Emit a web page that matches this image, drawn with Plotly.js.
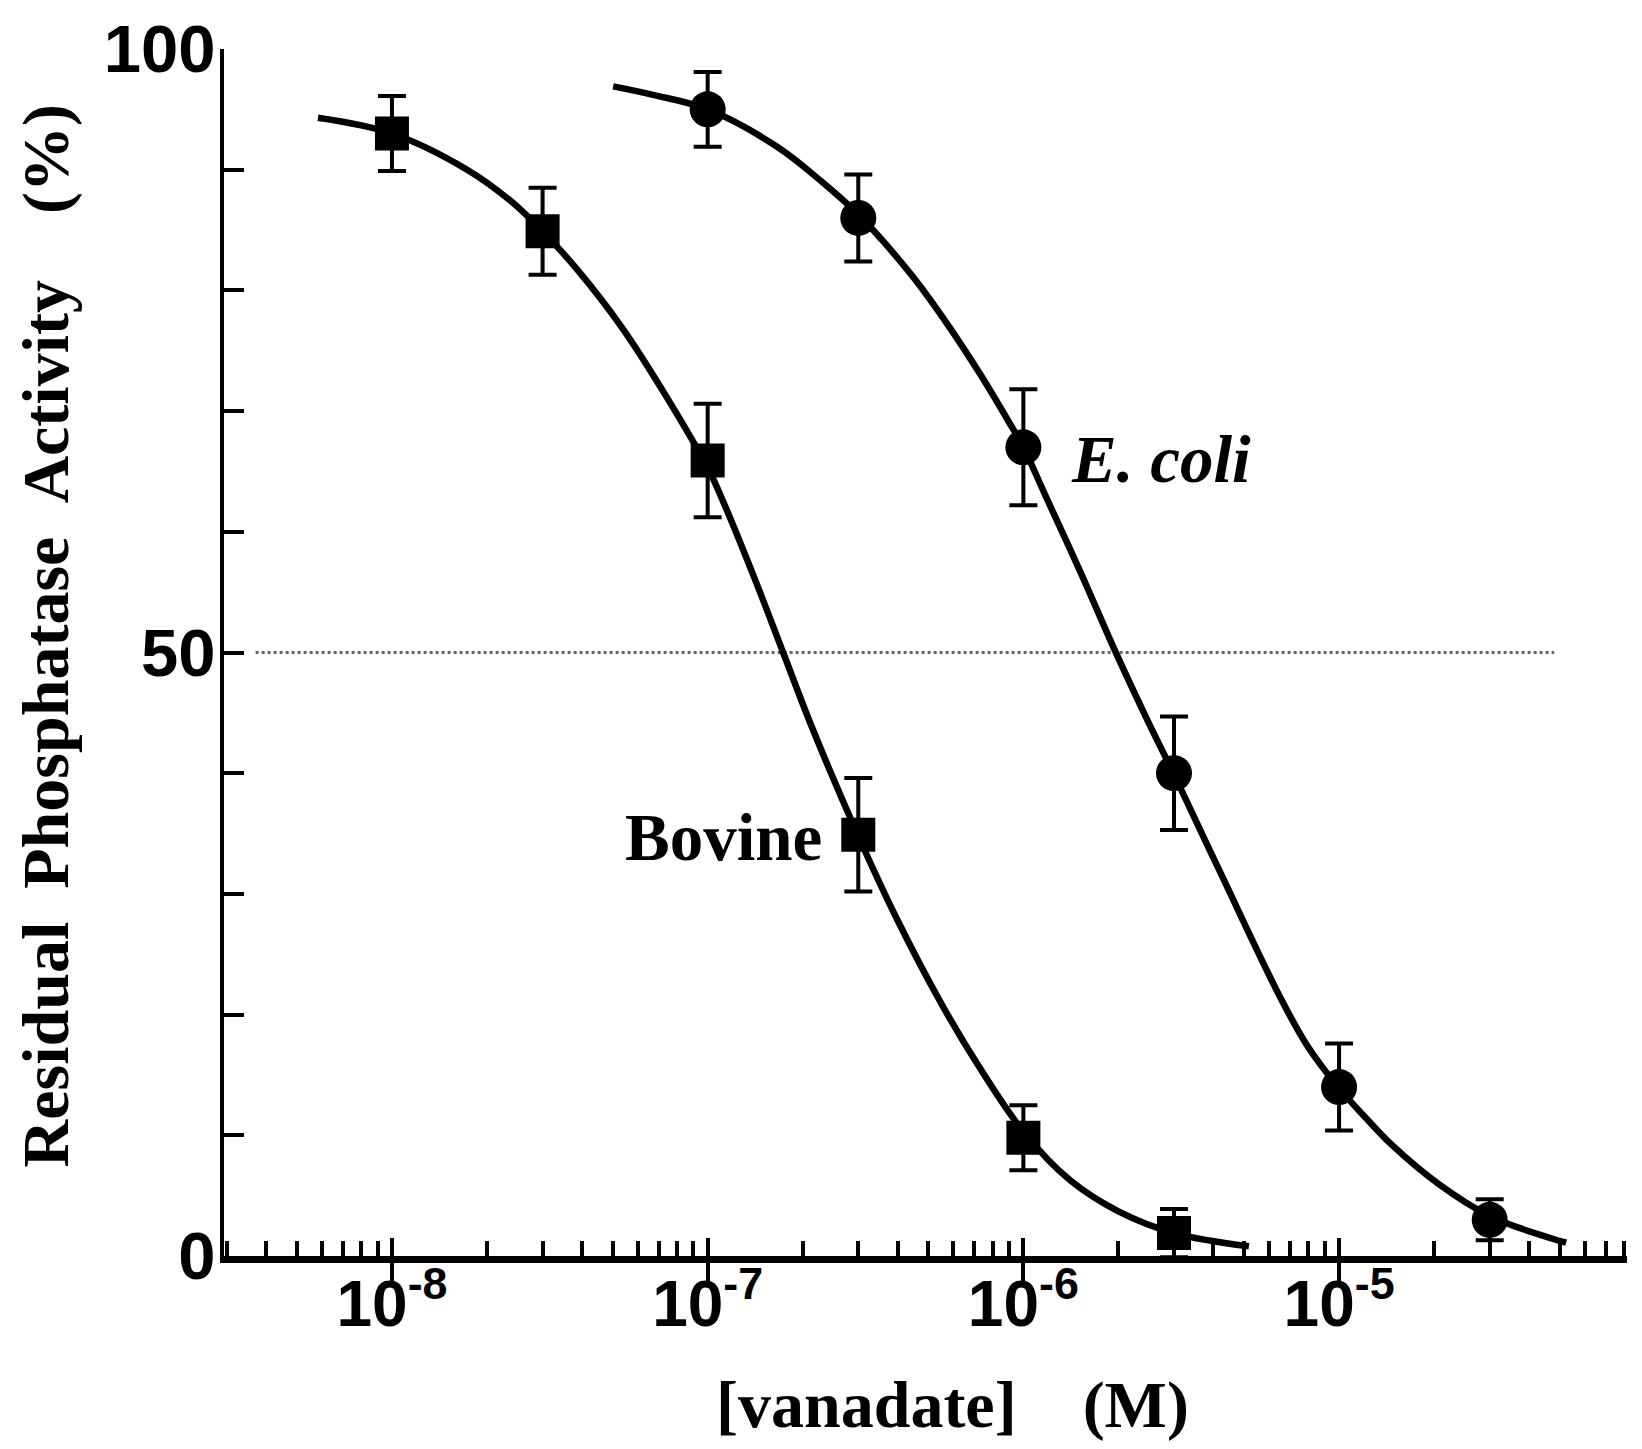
<!DOCTYPE html>
<html>
<head>
<meta charset="utf-8">
<script src="https://cdn.plot.ly/plotly-3.0.1.min.js"></script>
<style>
  html, body { margin: 0; padding: 0; background: #fff; }
  #chart { width: 1642px; height: 1449px; }
</style>
</head>
<body>
<div id="chart"></div>
<script>
// measured points (mean +/- error), vanadate in M
const bovineX = [1e-8, 3e-8, 1e-7, 3e-7, 1e-6, 3e-6];
const bovineY = [93.0, 84.9, 65.9, 34.9, 9.8, 1.9];
const bovineErr = [3.1, 3.6, 4.7, 4.7, 2.7, 2.0];

const ecoliX = [1e-7, 3e-7, 1e-6, 3e-6, 1e-5, 3e-5];
const ecoliY = [95.0, 86.0, 67.0, 40.0, 14.0, 3.0];
const ecoliErr = [3.1, 3.6, 4.8, 4.7, 3.6, 1.7];

// fitted curves
const bovineFitX = [5.83e-9, 1.0e-8, 1.73e-8, 2.38e-8, 3.0e-8, 3.87e-8, 5.36e-8, 7.40e-8,
  1.0e-7, 1.12e-7, 1.41e-7, 1.74e-7, 2.14e-7, 3.0e-7, 3.98e-7, 5.50e-7, 7.19e-7,
  1.0e-6, 1.41e-6, 2.0e-6, 3.0e-6, 5.18e-6];
const bovineFitY = [94.3, 93.0, 90.0, 87.4, 84.9, 81.7, 76.9, 71.2,
  65.3, 62.5, 56.1, 49.9, 43.8, 34.8, 27.9, 20.9, 15.8,
  10.3, 6.25, 3.7, 1.9, 0.8];

const ecoliFitX = [5.02e-8, 6.71e-8, 1.0e-7, 1.66e-7, 2.30e-7, 3.0e-7, 3.56e-7, 4.54e-7,
  5.78e-7, 7.36e-7, 8.95e-7, 1.0e-6, 1.17e-6, 1.52e-6, 1.97e-6, 2.47e-6, 3.0e-6,
  4.29e-6, 6.52e-6, 7.94e-6, 1.0e-5, 1.21e-5, 1.47e-5, 2.07e-5, 3.0e-5, 3.85e-5, 5.24e-5];
const ecoliFitY = [96.9, 96.2, 95.0, 91.9, 89.0, 86.3, 84.2, 80.9,
  77.1, 72.9, 69.2, 67.0, 63.1, 56.6, 49.9, 44.4, 39.9,
  31.3, 21.4, 17.4, 13.9, 11.5, 9.2, 5.95, 3.3, 2.2, 1.1];

// 50 % reference line
const halfX = [3.7e-9, 4.8e-5];
const halfY = [50, 50];

const xTickVals = [1e-8, 1e-7, 1e-6, 1e-5];
const xTickText = ['10<sup>-8</sup>', '10<sup>-7</sup>', '10<sup>-6</sup>', '10<sup>-5</sup>'];
const yTickVals = [0, 50, 100];
const yTickText = ['0', '50', '100'];

const xTitle = '[vanadate]\u00a0\u00a0\u00a0\u00a0(M)';
const yTitle = 'Residual\u00a0\u00a0Phosphatase\u00a0\u00a0Activity\u00a0\u00a0\u00a0\u00a0(%)';

const serif = 'Liberation Serif, Times New Roman, serif';
const sans = 'Liberation Sans, Arial, sans-serif';

function fitTrace(x, y) {
  return {
    x: x, y: y, type: 'scatter', mode: 'lines',
    line: { color: '#000', width: 6.5, shape: 'spline', smoothing: 1 },
    hoverinfo: 'skip', showlegend: false
  };
}

function pointTrace(x, y, err, symbol, size) {
  return {
    x: x, y: y, type: 'scatter', mode: 'markers',
    marker: { symbol: symbol, size: size, color: '#000' },
    error_y: { type: 'data', array: err, visible: true, color: '#000', thickness: 4, width: 14 },
    showlegend: false
  };
}

const traces = [
  {
    x: halfX, y: halfY, type: 'scatter', mode: 'lines',
    line: { color: '#666', width: 3, dash: '3px,3px' },
    hoverinfo: 'skip', showlegend: false
  },
  fitTrace(bovineFitX, bovineFitY),
  fitTrace(ecoliFitX, ecoliFitY),
  pointTrace(bovineX, bovineY, bovineErr, 'square', 34),
  pointTrace(ecoliX, ecoliY, ecoliErr, 'circle', 36),
  // empty trace so the overlay axis (inner half of the major ticks) is drawn
  { x: [], y: [], xaxis: 'x2', type: 'scatter', showlegend: false }
];

const xRange = [-8.532, -4.088];

const layout = {
  width: 1642, height: 1449,
  margin: { l: 224, r: 15, t: 49, b: 193 },
  paper_bgcolor: '#fff', plot_bgcolor: '#fff',
  showlegend: false,
  xaxis: {
    type: 'log', range: xRange,
    tickvals: xTickVals, ticktext: xTickText,
    ticks: 'outside', ticklen: 20, tickwidth: 4, tickcolor: '#000',
    ticklabelstandoff: -34,
    minor: { dtick: 'D1', ticks: 'inside', ticklen: 15, tickwidth: 4, tickcolor: '#000', showgrid: false },
    showline: true, linewidth: 7, linecolor: '#000',
    showgrid: false, zeroline: false,
    tickfont: { family: sans, size: 64, color: '#000', weight: 'bold' }
  },
  xaxis2: {
    type: 'log', range: xRange, overlaying: 'x', anchor: 'y', side: 'bottom',
    tickvals: xTickVals, ticks: 'inside', ticklen: 18, tickwidth: 4, tickcolor: '#000',
    showticklabels: false, showline: false, showgrid: false, zeroline: false
  },
  yaxis: {
    range: [0, 100],
    tickvals: yTickVals, ticktext: yTickText,
    ticks: 'inside', ticklen: 20, tickwidth: 4, tickcolor: '#000',
    ticklabelstandoff: -9,
    minor: { dtick: 10, ticks: 'inside', ticklen: 20, tickwidth: 4, tickcolor: '#000', showgrid: false },
    showline: true, linewidth: 4, linecolor: '#000',
    showgrid: false, zeroline: false,
    tickfont: { family: sans, size: 67, color: '#000', weight: 'bold' }
  },
  annotations: [
    {
      // x axis title
      text: xTitle, xref: 'paper', yref: 'paper',
      x: 0.5189, y: -0.1236, xanchor: 'center', yanchor: 'middle', showarrow: false,
      font: { family: serif, size: 66, color: '#000', weight: 'bold' }
    },
    {
      // y axis title
      text: yTitle, xref: 'paper', yref: 'paper', textangle: -90,
      x: -0.1262, y: 0.5141, xanchor: 'center', yanchor: 'middle', showarrow: false,
      font: { family: serif, size: 66, color: '#000', weight: 'bold' }
    },
    {
      text: '<i>E. coli</i>', xref: 'paper', yref: 'paper',
      x: 0.6021, y: 0.6600, xanchor: 'left', yanchor: 'middle', showarrow: false,
      font: { family: serif, size: 67, color: '#000', weight: 'bold' }
    },
    {
      text: 'Bovine', xref: 'paper', yref: 'paper',
      x: 0.2845, y: 0.3469, xanchor: 'left', yanchor: 'middle', showarrow: false,
      font: { family: serif, size: 67, color: '#000', weight: 'bold' }
    }
  ]
};

Plotly.newPlot('chart', traces, layout, { staticPlot: true, displayModeBar: false });
</script>
</body>
</html>
